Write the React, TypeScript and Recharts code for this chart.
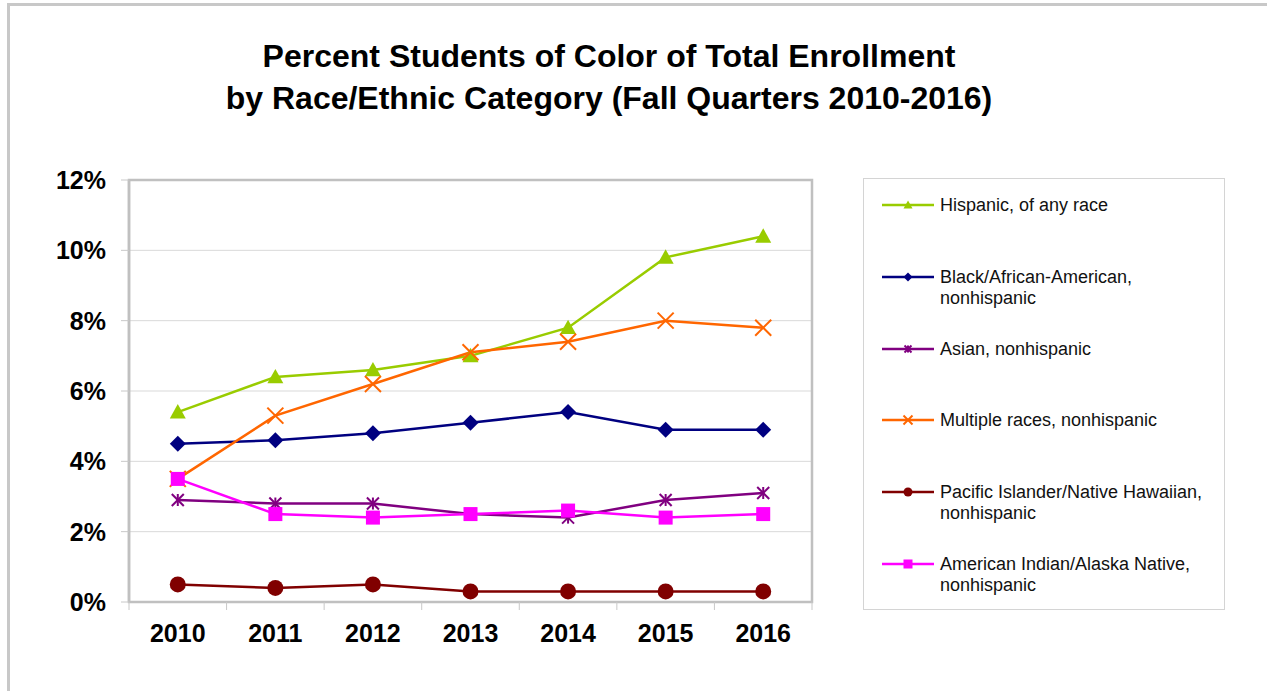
import React from 'react';
import { LineChart, Line, XAxis, YAxis, CartesianGrid, ReferenceArea } from 'recharts';

const years = ['2010', '2011', '2012', '2013', '2014', '2015', '2016'];
const hispanic = [5.4, 6.4, 6.6, 7.0, 7.8, 9.8, 10.4];
const black = [4.5, 4.6, 4.8, 5.1, 5.4, 4.9, 4.9];
const asian = [2.9, 2.8, 2.8, 2.5, 2.4, 2.9, 3.1];
const multiple = [3.5, 5.3, 6.2, 7.1, 7.4, 8.0, 7.8];
const pacific = [0.5, 0.4, 0.5, 0.3, 0.3, 0.3, 0.3];
const amIndian = [3.5, 2.5, 2.4, 2.5, 2.6, 2.4, 2.5];
const yTicks = [0, 2, 4, 6, 8, 10, 12];

type Shape = 'triangle' | 'diamond' | 'asterisk' | 'cross' | 'circle' | 'square';

interface SeriesDef {
  key: string;
  name: string[];
  color: string;
  shape: Shape;
  values: number[];
}

const series: SeriesDef[] = [
  { key: 'hispanic', name: ['Hispanic, of any race'], color: '#99cc00', shape: 'triangle', values: hispanic },
  { key: 'black', name: ['Black/African-American,', 'nonhispanic'], color: '#000080', shape: 'diamond', values: black },
  { key: 'asian', name: ['Asian, nonhispanic'], color: '#800080', shape: 'asterisk', values: asian },
  { key: 'multiple', name: ['Multiple races, nonhispanic'], color: '#ff6600', shape: 'cross', values: multiple },
  { key: 'pacific', name: ['Pacific Islander/Native Hawaiian,', 'nonhispanic'], color: '#800000', shape: 'circle', values: pacific },
  { key: 'amIndian', name: ['American Indian/Alaska Native,', 'nonhispanic'], color: '#ff00ff', shape: 'square', values: amIndian },
];

const data = years.map((year, i) => {
  const row: Record<string, string | number> = { year };
  series.forEach((s) => {
    row[s.key] = s.values[i];
  });
  return row;
});

const FONT = "'Liberation Sans', Arial, Helvetica, sans-serif";

// chart geometry
const W = 1267;
const H = 691;
const MARGIN = { top: 180, right: 455, bottom: 49, left: 69 };
const Y_AXIS_W = 60;
const X_AXIS_H = 40;
const TICK_MARGIN = 22;
const plotW = W - MARGIN.left - Y_AXIS_W - MARGIN.right;
const bandW = plotW / years.length;

function Marker({ shape, cx, cy, color, s }: { shape: Shape; cx: number; cy: number; color: string; s: number }) {
  switch (shape) {
    case 'triangle':
      return <polygon points={`${cx},${cy - s} ${cx + s},${cy + s * 0.8} ${cx - s},${cy + s * 0.8}`} fill={color} />;
    case 'diamond':
      return <polygon points={`${cx},${cy - s} ${cx + s},${cy} ${cx},${cy + s} ${cx - s},${cy}`} fill={color} />;
    case 'square':
      return <rect x={cx - s} y={cy - s} width={s * 2} height={s * 2} fill={color} />;
    case 'circle':
      return <circle cx={cx} cy={cy} r={s} fill={color} />;
    case 'cross':
      return (
        <g stroke={color} strokeWidth={2}>
          <line x1={cx - s} y1={cy - s} x2={cx + s} y2={cy + s} />
          <line x1={cx - s} y1={cy + s} x2={cx + s} y2={cy - s} />
        </g>
      );
    case 'asterisk':
      return (
        <g stroke={color} strokeWidth={2}>
          <line x1={cx - s} y1={cy - s} x2={cx + s} y2={cy + s} />
          <line x1={cx - s} y1={cy + s} x2={cx + s} y2={cy - s} />
          <line x1={cx} y1={cy - s} x2={cx} y2={cy + s} />
        </g>
      );
  }
  return null;
}

const markerSize: Record<Shape, number> = {
  triangle: 8,
  diamond: 8,
  asterisk: 6,
  cross: 8,
  circle: 8,
  square: 7,
};

const makeDot = (s: SeriesDef) => (props: any) => {
  const { cx, cy, index } = props;
  if (cx == null || cy == null) return <g key={index} />;
  return (
    <g key={`${s.key}-${index}`}>
      <Marker shape={s.shape} cx={cx} cy={cy} color={s.color} s={markerSize[s.shape]} />
    </g>
  );
};

// year label plus tick marks on the category boundaries
const YearTick = (props: any) => {
  const { x, y, payload, index } = props;
  const axisY = y - TICK_MARGIN;
  const edges = [x - bandW / 2];
  if (index === years.length - 1) edges.push(x + bandW / 2);
  return (
    <g>
      {edges.map((ex, i) => (
        <line key={i} x1={ex} x2={ex} y1={axisY} y2={axisY + 8} stroke="#c8c8c8" strokeWidth={1} />
      ))}
      <text x={x} y={y} dy="0.71em" textAnchor="middle" fontFamily={FONT} fontWeight="bold" fontSize={25} fill="#000">
        {payload.value}
      </text>
    </g>
  );
};

const legendTops = [204, 276, 348, 419, 491, 563];

const ChartLegend = () => (
  <div
    style={{
      position: 'absolute',
      left: 863,
      top: 178,
      width: 362,
      height: 432,
      border: '1px solid #d4d4d4',
      background: '#fff',
      boxSizing: 'border-box',
    }}
  >
    <svg width={362} height={432} style={{ position: 'absolute', left: 0, top: 0 }}>
      {series.map((s, i) => {
        const y = legendTops[i] - 178;
        return (
          <g key={s.key}>
            <line x1={18} x2={70} y1={y} y2={y} stroke={s.color} strokeWidth={2.5} />
            <Marker shape={s.shape} cx={44} cy={y} color={s.color} s={s.shape === 'asterisk' ? 3.5 : 4.5} />
            {s.name.map((line, j) => (
              <text key={j} x={76} y={y + 6 + j * 21} fontFamily={FONT} fontSize={18} fill="#111">
                {line}
              </text>
            ))}
          </g>
        );
      })}
    </svg>
  </div>
);

export default function App() {
  return (
    <div style={{ position: 'absolute', left: 0, top: 0, width: W, height: H, background: '#fff', overflow: 'hidden' }}>
      <style>{'body{margin:0;}'}</style>
      <div
        style={{
          position: 'absolute',
          left: 7,
          top: 3,
          width: 1300,
          height: 720,
          border: '3px solid #c8c8c8',
          boxSizing: 'border-box',
        }}
      />
      <svg width={W} height={140} style={{ position: 'absolute', left: 0, top: 0 }}>
        <text x={609} y={67} textAnchor="middle" fontFamily={FONT} fontWeight="bold" fontSize={32} fill="#000">
          Percent Students of Color of Total Enrollment
        </text>
        <text x={609} y={109} textAnchor="middle" fontFamily={FONT} fontWeight="bold" fontSize={32} fill="#000">
          by Race/Ethnic Category (Fall Quarters 2010-2016)
        </text>
      </svg>
      <div style={{ position: 'absolute', left: 0, top: 0 }}>
        <LineChart width={W} height={H} data={data} margin={MARGIN}>
          <CartesianGrid vertical={false} stroke="#d9d9d9" strokeWidth={1} />
          <ReferenceArea y1={0} y2={12} fill="none" stroke="#c0c0c0" strokeWidth={2.5} ifOverflow="visible" />
          <XAxis
            dataKey="year"
            scale="band"
            height={X_AXIS_H}
            axisLine={false}
            tickLine={false}
            tickSize={0}
            tickMargin={TICK_MARGIN}
            interval={0}
            tick={<YearTick />}
          />
          <YAxis
            width={Y_AXIS_W}
            domain={[0, 12]}
            ticks={yTicks}
            interval={0}
            tickFormatter={(v: number) => `${v}%`}
            axisLine={{ stroke: '#c0c0c0', strokeWidth: 2.5 }}
            tickLine={{ stroke: '#c8c8c8', strokeWidth: 1 }}
            tickSize={8}
            tickMargin={15}
            tick={{ fontFamily: FONT, fontWeight: 'bold', fontSize: 25, fill: '#000' }}
          />
          {series.map((s) => (
            <Line
              key={s.key}
              type="linear"
              dataKey={s.key}
              name={s.name.join(' ')}
              stroke={s.color}
              strokeWidth={2.5}
              dot={makeDot(s)}
              activeDot={false}
              isAnimationActive={false}
            />
          ))}
        </LineChart>
      </div>
      <ChartLegend />
    </div>
  );
}
